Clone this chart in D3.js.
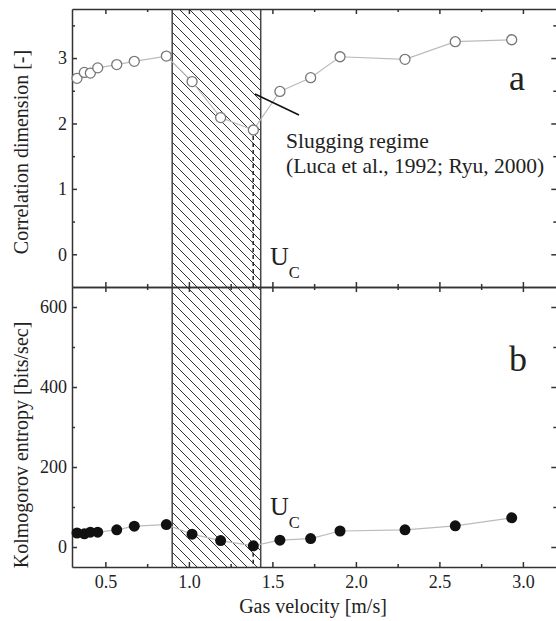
<!DOCTYPE html>
<html>
<head>
<meta charset="utf-8">
<script src="https://cdn.jsdelivr.net/npm/d3@7"></script>
<style>
  body { margin: 0; background: #fff; }
  svg text { font-family: "Liberation Serif", "Times New Roman", Times, "DejaVu Serif", serif; }
</style>
</head>
<body>
<div id="chart"></div>
<script>
// data
var velocity = [0.33, 0.374, 0.41, 0.454, 0.568, 0.673, 0.865, 1.019, 1.19, 1.386, 1.545, 1.729, 1.905, 2.294, 2.595, 2.933];
var corrDim = [2.69, 2.78, 2.77, 2.85, 2.90, 2.95, 3.03, 2.64, 2.09, 1.90, 2.49, 2.70, 3.02, 2.98, 3.25, 3.28];
var entropy = [35, 33, 37, 37, 43, 52, 56, 32, 16, 3, 17, 21, 40, 43, 53, 73];
var slugRange = [0.9, 1.43];
var uc = 1.385;
var xTicks = [0.5, 1.0, 1.5, 2.0, 2.5, 3.0];
var xMinor = [0.75, 1.25, 1.75, 2.25, 2.75];
var topTicks = [0, 1, 2, 3];
var topMinor = [0.5, 1.5, 2.5, 3.5];
var botTicks = [0, 200, 400, 600];
var botMinor = [100, 300, 500];

var W = 556, H = 621;
var plotL = 72, plotR = 556.3, plotT = 9, plotM = 287, plotB = 567;
var axisColor = "#333";
var serif = "'Liberation Serif', 'Times New Roman', Times, 'DejaVu Serif', serif";

var svg = d3.select("#chart").append("svg")
    .attr("width", W)
    .attr("height", H)
    .attr("font-family", serif);

var x = d3.scaleLinear().domain([0.3, 3.2]).range([plotL, plotR]);
var yTop = d3.scaleLinear().domain([-0.5, 3.75]).range([plotM, plotT]);
var yBot = d3.scaleLinear().domain([-50, 650]).range([plotB, plotM]);

// hatch pattern for the slugging regime
var pat = svg.append("defs").append("pattern")
    .attr("id", "hatch")
    .attr("patternUnits", "userSpaceOnUse")
    .attr("width", 10)
    .attr("height", 10);
pat.append("path")
    .attr("d", "M0,0L10,10M-1,9L1,11M9,-1L11,1")
    .attr("stroke", "#333")
    .attr("stroke-width", 1);

svg.append("rect")
    .attr("x", x(slugRange[0]))
    .attr("y", plotT)
    .attr("width", x(slugRange[1]) - x(slugRange[0]))
    .attr("height", plotB - plotT)
    .attr("fill", "url(#hatch)");
svg.selectAll(".edge")
    .data(slugRange)
    .enter().append("line")
    .attr("x1", d => x(d)).attr("x2", d => x(d))
    .attr("y1", plotT).attr("y2", plotB)
    .attr("stroke", "#444")
    .attr("stroke-width", 1.5);

// axes helper: major + minor ticks, all pointing inward
function drawAxis(axisFn, scale, major, minor, transform, labels) {
    var g = svg.append("g").attr("transform", transform);
    g.call(axisFn(scale).tickValues(major).tickSize(-5).tickSizeOuter(0)
        .tickPadding(labels ? labels : 0)
        .tickFormat(labels ? null : ""));
    var gm = svg.append("g").attr("transform", transform);
    gm.call(axisFn(scale).tickValues(minor).tickSize(-3).tickSizeOuter(0).tickFormat(""));
    gm.select(".domain").remove();
    [g, gm].forEach(function(s) {
        s.attr("font-family", serif);
        s.selectAll("path, line").attr("stroke", axisColor).attr("stroke-width", 1.5);
        s.selectAll("text").attr("fill", "#222").attr("font-size", 18);
    });
    if (!labels) g.selectAll("text").remove();
    return g;
}

// top panel
drawAxis(d3.axisLeft, yTop, topTicks, topMinor, "translate(" + plotL + ",0)", 5)
    .selectAll("text").text(d => d3.format("d")(d));
drawAxis(d3.axisRight, yTop, topTicks, topMinor, "translate(" + plotR + ",0)", 0);
drawAxis(d3.axisTop, x, xTicks, xMinor, "translate(0," + plotT + ")", 0);
drawAxis(d3.axisBottom, x, xTicks, xMinor, "translate(0," + plotM + ")", 0);

// bottom panel
drawAxis(d3.axisLeft, yBot, botTicks, botMinor, "translate(" + plotL + ",0)", 5);
drawAxis(d3.axisRight, yBot, botTicks, botMinor, "translate(" + plotR + ",0)", 0);
drawAxis(d3.axisTop, x, xTicks, xMinor, "translate(0," + plotM + ")", 0);
drawAxis(d3.axisBottom, x, xTicks, xMinor, "translate(0," + plotB + ")", 8)
    .selectAll("text").text(d => d3.format(".1f")(d));

// U_c dashed markers
svg.append("line")
    .attr("x1", x(uc)).attr("x2", x(uc))
    .attr("y1", yTop(corrDim[9]) + 6).attr("y2", plotM)
    .attr("stroke", "#222").attr("stroke-width", 1.5)
    .attr("stroke-dasharray", "4,3");
svg.append("line")
    .attr("x1", x(uc)).attr("x2", x(uc))
    .attr("y1", yBot(entropy[9]) + 7).attr("y2", plotB)
    .attr("stroke", "#222").attr("stroke-width", 1.5)
    .attr("stroke-dasharray", "4,3");

// series lines
var lineTop = d3.line().x((d, i) => x(velocity[i])).y(d => yTop(d));
var lineBot = d3.line().x((d, i) => x(velocity[i])).y(d => yBot(d));
svg.append("path").datum(corrDim)
    .attr("d", lineTop).attr("fill", "none")
    .attr("stroke", "#bbb").attr("stroke-width", 1.2);
svg.append("path").datum(entropy)
    .attr("d", lineBot).attr("fill", "none")
    .attr("stroke", "#bbb").attr("stroke-width", 1.2);

// markers
svg.append("g").selectAll("circle")
    .data(corrDim)
    .enter().append("circle")
    .attr("cx", (d, i) => x(velocity[i]))
    .attr("cy", d => yTop(d))
    .attr("r", 5)
    .attr("fill", "#fff")
    .attr("stroke", "#777")
    .attr("stroke-width", 1.3);
svg.append("g").selectAll("circle")
    .data(entropy)
    .enter().append("circle")
    .attr("cx", (d, i) => x(velocity[i]))
    .attr("cy", d => yBot(d))
    .attr("r", 5.5)
    .attr("fill", "#111");

// annotation
svg.append("line")
    .attr("x1", 255).attr("y1", 94)
    .attr("x2", 299).attr("y2", 115)
    .attr("stroke", "#111").attr("stroke-width", 1.5);
var ann = svg.append("text").attr("font-size", 21.5).attr("fill", "#222");
ann.append("tspan").attr("x", 286).attr("y", 148).text("Slugging regime");
ann.append("tspan").attr("x", 286).attr("y", 173).text("(Luca et al., 1992; Ryu, 2000)");

// U_c labels
function ucLabel(y) {
    var t = svg.append("text").attr("x", 270).attr("y", y).attr("fill", "#222");
    t.append("tspan").attr("font-size", 26).text("U");
    t.append("tspan").attr("font-size", 16.5).attr("dy", 12.5).text("C");
}
ucLabel(265);
ucLabel(515);

// panel letters
svg.append("text").attr("x", 509).attr("y", 90)
    .attr("font-size", 36).attr("fill", "#222").text("a");
svg.append("text").attr("x", 509).attr("y", 371)
    .attr("font-size", 36).attr("fill", "#222").text("b");

// axis titles
svg.append("text")
    .attr("transform", "translate(27.5,152) rotate(-90)")
    .attr("text-anchor", "middle")
    .attr("font-size", 20).attr("fill", "#222")
    .text("Correlation dimension [-]");
svg.append("text")
    .attr("transform", "translate(27.5,445) rotate(-90)")
    .attr("text-anchor", "middle")
    .attr("font-size", 20).attr("fill", "#222")
    .text("Kolmogorov entropy [bits/sec]");
svg.append("text")
    .attr("x", 313).attr("y", 613)
    .attr("text-anchor", "middle")
    .attr("font-size", 20).attr("fill", "#222")
    .text("Gas velocity [m/s]");
</script>
</body>
</html>
